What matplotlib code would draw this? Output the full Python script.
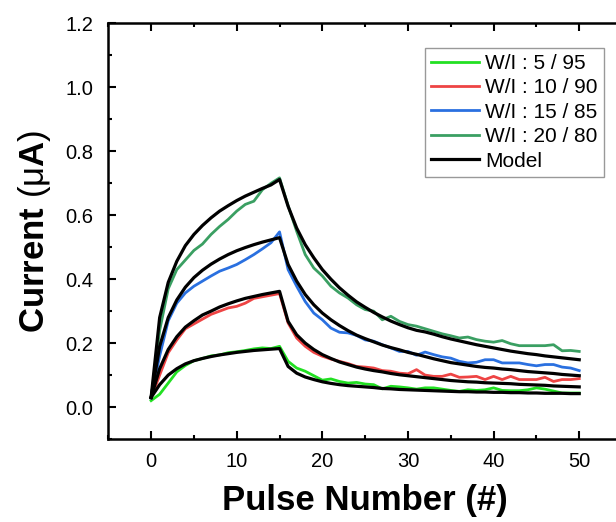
import matplotlib
matplotlib.use("Agg")
import matplotlib.pyplot as plt
from matplotlib.ticker import MultipleLocator

plt.rcParams["font.family"] = ["Liberation Sans", "DejaVu Sans"]
plt.rcParams["mathtext.fontset"] = "custom"
plt.rcParams["mathtext.rm"] = "Liberation Sans"
plt.rcParams["mathtext.bf"] = "Liberation Sans:bold"

pulses = list(range(51))

# measured currents (uA)
data_5_95 = [0.020, 0.040, 0.075, 0.110, 0.130, 0.145, 0.152, 0.160, 0.163, 0.170,
             0.173, 0.177, 0.182, 0.185, 0.183, 0.190, 0.143, 0.122, 0.112, 0.098,
             0.084, 0.088, 0.080, 0.075, 0.077, 0.072, 0.070, 0.057, 0.065, 0.063,
             0.060, 0.056, 0.060, 0.060, 0.056, 0.052, 0.049, 0.054, 0.052, 0.054,
             0.060, 0.052, 0.051, 0.051, 0.054, 0.060, 0.056, 0.050, 0.044, 0.044,
             0.044]
data_10_90 = [0.028, 0.100, 0.170, 0.210, 0.245, 0.260, 0.275, 0.290, 0.300, 0.310,
              0.315, 0.325, 0.340, 0.345, 0.350, 0.355, 0.263, 0.216, 0.190, 0.171,
              0.159, 0.150, 0.143, 0.136, 0.127, 0.125, 0.122, 0.114, 0.112, 0.106,
              0.104, 0.117, 0.100, 0.096, 0.096, 0.103, 0.093, 0.094, 0.096, 0.086,
              0.096, 0.086, 0.096, 0.086, 0.086, 0.086, 0.093, 0.080, 0.086, 0.086,
              0.089]
data_15_85 = [0.028, 0.160, 0.270, 0.325, 0.357, 0.378, 0.394, 0.410, 0.425, 0.435,
              0.446, 0.461, 0.477, 0.495, 0.514, 0.548, 0.430, 0.378, 0.330, 0.294,
              0.273, 0.247, 0.234, 0.232, 0.224, 0.210, 0.206, 0.195, 0.185, 0.174,
              0.174, 0.162, 0.172, 0.164, 0.157, 0.153, 0.143, 0.138, 0.140, 0.148,
              0.148, 0.138, 0.138, 0.138, 0.133, 0.129, 0.133, 0.133, 0.125, 0.122,
              0.114]
data_20_80 = [0.028, 0.240, 0.370, 0.430, 0.460, 0.490, 0.510, 0.540, 0.565, 0.587,
              0.613, 0.634, 0.644, 0.680, 0.700, 0.717, 0.630, 0.550, 0.477, 0.435,
              0.410, 0.378, 0.357, 0.341, 0.320, 0.305, 0.300, 0.273, 0.284, 0.268,
              0.258, 0.253, 0.245, 0.237, 0.229, 0.223, 0.216, 0.219, 0.211, 0.206,
              0.203, 0.208, 0.198, 0.192, 0.192, 0.192, 0.192, 0.195, 0.176, 0.177,
              0.174]

# model fits
model_5_95 = [0.030, 0.070, 0.100, 0.120, 0.135, 0.145, 0.152, 0.158, 0.163, 0.167,
              0.171, 0.174, 0.177, 0.179, 0.181, 0.183, 0.127, 0.106, 0.094, 0.086,
              0.079, 0.074, 0.070, 0.067, 0.065, 0.063, 0.061, 0.058, 0.057, 0.055,
              0.054, 0.053, 0.052, 0.051, 0.050, 0.049, 0.048, 0.048, 0.047, 0.047,
              0.046, 0.046, 0.045, 0.045, 0.044, 0.044, 0.043, 0.043, 0.043, 0.042,
              0.042]
model_10_90 = [0.030, 0.120, 0.180, 0.220, 0.250, 0.270, 0.288, 0.300, 0.313, 0.323,
               0.332, 0.340, 0.346, 0.352, 0.357, 0.362, 0.268, 0.226, 0.200, 0.180,
               0.164, 0.152, 0.141, 0.133, 0.125, 0.119, 0.114, 0.110, 0.105, 0.101,
               0.098, 0.095, 0.092, 0.089, 0.086, 0.083, 0.081, 0.079, 0.078, 0.076,
               0.075, 0.074, 0.073, 0.071, 0.070, 0.069, 0.068, 0.066, 0.065, 0.064,
               0.063]
model_15_85 = [0.030, 0.190, 0.280, 0.335, 0.375, 0.405, 0.428, 0.447, 0.463, 0.477,
               0.489, 0.499, 0.508, 0.516, 0.523, 0.530, 0.446, 0.394, 0.352, 0.320,
               0.294, 0.273, 0.255, 0.239, 0.225, 0.214, 0.204, 0.194, 0.186, 0.179,
               0.171, 0.165, 0.158, 0.151, 0.145, 0.139, 0.135, 0.131, 0.127, 0.124,
               0.122, 0.119, 0.117, 0.114, 0.111, 0.109, 0.107, 0.105, 0.102, 0.100,
               0.098]
model_20_80 = [0.030, 0.280, 0.390, 0.456, 0.505, 0.540, 0.568, 0.592, 0.613, 0.630,
               0.646, 0.660, 0.672, 0.684, 0.695, 0.712, 0.628, 0.560, 0.508, 0.467,
               0.430, 0.400, 0.373, 0.350, 0.329, 0.312, 0.296, 0.282, 0.269, 0.258,
               0.248, 0.240, 0.235, 0.228, 0.220, 0.213, 0.207, 0.201, 0.195, 0.190,
               0.185, 0.180, 0.175, 0.171, 0.167, 0.164, 0.160, 0.157, 0.154, 0.151,
               0.148]

labels = ["W/I : 5 / 95", "W/I : 10 / 90", "W/I : 15 / 85", "W/I : 20 / 80"]
colors = ["#22e022", "#ee4444", "#2a70e0", "#3a9f62"]

fig = plt.figure(figsize=(6.16, 5.22), dpi=100)
ax = fig.add_axes([0.1758, 0.159, 0.834, 0.796])

series = [data_5_95, data_10_90, data_15_85, data_20_80]
models = [model_5_95, model_10_90, model_15_85, model_20_80]
for y, lab, c in zip(series, labels, colors):
    ax.plot(pulses, y, color=c, lw=2.0, label=lab)
for i, m in enumerate(models):
    ax.plot(pulses, m, color="black", lw=2.3, label="Model" if i == 0 else None)

ax.set_xlim(-5, 55)
ax.set_ylim(-0.1, 1.2)
ax.xaxis.set_major_locator(MultipleLocator(10))
ax.xaxis.set_minor_locator(MultipleLocator(5))
ax.yaxis.set_major_locator(MultipleLocator(0.2))
ax.yaxis.set_minor_locator(MultipleLocator(0.1))
ax.yaxis.set_major_formatter(plt.FormatStrFormatter("%.1f"))
ax.tick_params(which="both", direction="in", top=True, right=False, width=1.5)
ax.tick_params(which="major", length=5.5, labelsize=14.5)
ax.tick_params(axis="x", which="major", pad=9)
ax.tick_params(axis="y", which="major", pad=11)
ax.tick_params(which="minor", length=3)
for s in ax.spines.values():
    s.set_linewidth(1.8)

ax.set_xlabel("Pulse Number (#)", fontsize=25, fontweight="bold", labelpad=10)
ax.set_ylabel(r"$\mathbf{Current}$ (μ$\mathbf{A}$)", fontsize=25, labelpad=9)

handles, labs = ax.get_legend_handles_labels()
leg = ax.legend(handles, labs, loc="upper right", bbox_to_anchor=(0.965, 0.942),
                borderaxespad=0, fontsize=15, handlelength=2.3, handletextpad=0.3,
                labelspacing=0.26, borderpad=0.3, fancybox=False, framealpha=1)
leg.get_frame().set_edgecolor("#999999")
leg.get_frame().set_linewidth(1.0)

fig.savefig("out.png", dpi=100)
